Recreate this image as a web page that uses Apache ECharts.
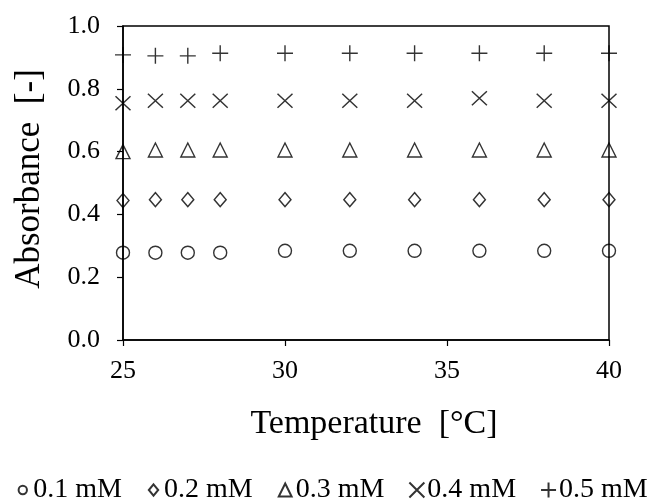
<!DOCTYPE html>
<html><head><meta charset="utf-8">
<script src="https://cdn.jsdelivr.net/npm/echarts@6/dist/echarts.min.js"></script>
<style>html,body{margin:0;padding:0;background:#fff}#c{width:662px;height:499px}</style>
</head><body><div id="c"></div>
<script>
const temperatures = [25, 26, 27, 28, 30, 32, 34, 36, 38, 40];
const abs01 = [0.278, 0.278, 0.278, 0.278, 0.284, 0.284, 0.284, 0.284, 0.284, 0.284];
const abs02 = [0.444, 0.447, 0.447, 0.447, 0.447, 0.447, 0.447, 0.447, 0.447, 0.447];
const abs03 = [0.600, 0.605, 0.605, 0.605, 0.605, 0.605, 0.605, 0.605, 0.605, 0.605];
const abs04 = [0.754, 0.762, 0.762, 0.762, 0.762, 0.762, 0.762, 0.770, 0.762, 0.762];
const abs05 = [0.908, 0.905, 0.905, 0.913, 0.913, 0.913, 0.913, 0.913, 0.913, 0.913];
const seriesNames = ['0.1 mM', '0.2 mM', '0.3 mM', '0.4 mM', '0.5 mM'];
const xTicks = [25, 30, 35, 40];

const FONT = '"Liberation Serif", "Times New Roman", serif';
const symbols = [
  {s: 'circle', size: 13, icon: 'path://M-4,-4M14,14M0,5A5,5,0,1,1,10,5A5,5,0,1,1,0,5Z'},
  {s: 'path://M5,0L10,6L5,12L0,6Z', size: [12, 14], icon: 'path://M-2,-2M12,14M5,0L10,6L5,12L0,6Z'},
  {s: 'path://M6,0L12,12L0,12Z', size: [14, 14], icon: 'path://M-1,-1M13,13M6,0L12,12L0,12Z'},
  {s: 'path://M0,0L10,10M10,0L0,10', size: [15, 14], icon: 'path://M0,0L10,10M10,0L0,10'},
  {s: 'path://M5,0L5,10M0,5L10,5', size: [16, 16], icon: 'path://M5,0L5,10M0,5L10,5'}
];
const all = [abs01, abs02, abs03, abs04, abs05];
const series = all.map((vals, i) => ({
  name: seriesNames[i],
  type: 'scatter',
  clip: false,
  data: temperatures.map((t, j) => [t, vals[j]]),
  symbol: symbols[i].s,
  symbolSize: symbols[i].size,
  itemStyle: {color: 'rgba(255,255,255,0)', borderColor: '#000', borderWidth: 1.4},
  emphasis: {disabled: true}
}));

const chart = echarts.init(document.getElementById('c'));
chart.setOption({
  animation: false,
  backgroundColor: '#fff',
  grid: {left: 123, right: 53, top: 26, bottom: 159, show: true, borderColor: '#000', borderWidth: 1.5, backgroundColor: 'transparent'},
  xAxis: {
    type: 'value', min: 25, max: 40, interval: 5,
    name: 'Temperature  [°C]', nameLocation: 'middle', nameGap: 67,
    nameTextStyle: {fontFamily: FONT, fontSize: 34, color: '#000', padding: [0, 0, 0, 16]},
    axisLine: {show: true, lineStyle: {color: '#000', width: 1.5}},
    axisTick: {show: true, length: 6, lineStyle: {color: '#000', width: 1.2}},
    axisLabel: {fontFamily: FONT, fontSize: 26, color: '#000', margin: 18,
      formatter: v => xTicks.includes(v) ? String(v) : ''},
    splitLine: {show: false}
  },
  yAxis: {
    type: 'value', min: 0, max: 1, interval: 0.2,
    name: 'Absorbance  [-]', nameLocation: 'middle', nameGap: 76,
    nameTextStyle: {fontFamily: FONT, fontSize: 35, color: '#000', padding: [0, 0, 0, 8]},
    axisLine: {show: true, lineStyle: {color: '#000', width: 1.5}},
    axisTick: {show: true, length: 6, lineStyle: {color: '#000', width: 1.2}},
    axisLabel: {fontFamily: FONT, fontSize: 26, color: '#000', margin: 23,
      formatter: v => v.toFixed(1)},
    splitLine: {show: false}
  },
  legend: {
    top: 476, left: 'center', padding: 0,
    itemWidth: 15, itemHeight: 15, itemGap: 24,
    textStyle: {fontFamily: FONT, fontSize: 28, color: '#000', padding: [0, 0, 0, -2]},
    data: seriesNames.map((n, i) => ({name: n, icon: symbols[i].icon}))
  },
  series: series
});
</script></body></html>
